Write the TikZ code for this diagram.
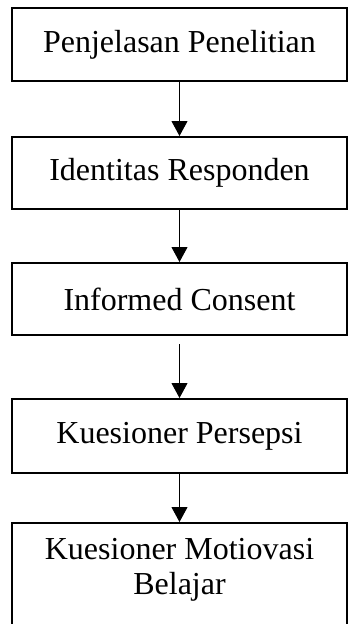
\documentclass[tikz,border=0pt]{standalone}
\usepackage{fontspec}
\setmainfont{Liberation Serif}
\usetikzlibrary{arrows.meta}
\begin{document}
\begin{tikzpicture}[x=1pt,y=-1pt,
  box/.style={draw=black, line width=2pt, minimum width=335pt, inner sep=0pt, align=center,
    font=\fontsize{32}{35}\selectfont},
  flow/.style={draw=black, line width=1pt, -{Triangle[width=16pt,length=15pt]}}]
\path[use as bounding box] (0,0) rectangle (348,624);
\clip (0,0) rectangle (348,624);
\node[box, minimum height=73pt] (b1) at (179.5,44.5) {Penjelasan Penelitian};
\node[box, minimum height=72pt] (b2) at (179.5,173) {Identitas Responden};
\node[box, minimum height=72pt] (b3) at (179.5,299) {Informed Consent};
\node[box, minimum height=74pt] (b4) at (179.5,436) {Kuesioner Persepsi};
\node[box, minimum height=130pt] (b5) at (179.5,588) {};
\node[align=center, inner sep=0pt, font=\fontsize{32}{35}\selectfont] (t5) at (179.5,570) {Kuesioner Motiovasi\\Belajar};
\draw[flow] (b1.south) -- (b2.north);
\draw[flow] (b2.south) -- (b3.north);
\draw[flow, shorten <=8pt] (b3.south) -- (b4.north);
\draw[flow] (b4.south) -- (b5.north);
\end{tikzpicture}
\end{document}
